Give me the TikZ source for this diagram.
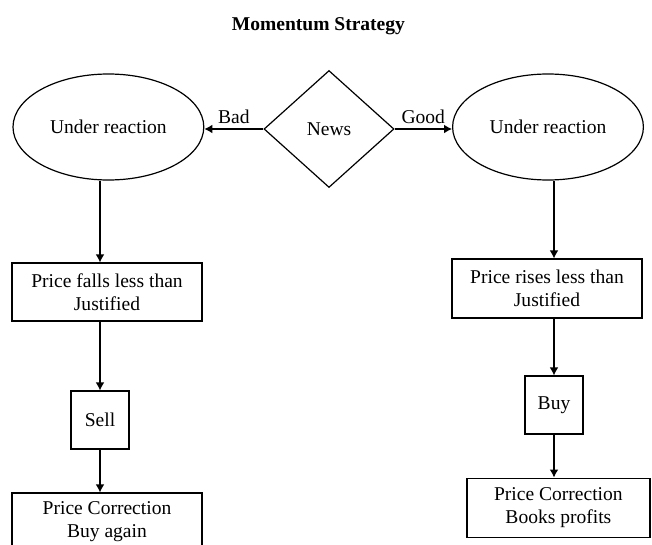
\documentclass[tikz,border=0pt]{standalone}
\usepackage{fontspec}
\setmainfont{Liberation Serif}
\usepackage{tikz}
\usetikzlibrary{arrows,arrows.meta,shapes.geometric}

\tikzset{
  flowbox/.style={draw, black, line width=0.03cm, align=center, inner sep=0cm},
  reaction/.style={draw, black, ellipse, line width=0.03cm, inner sep=0cm, minimum width=4.77cm, minimum height=2.65cm},
  flowline/.style={black, line width=0.03cm, -{Latex[length=0.2cm,width=0.22cm]}}
}

\begin{document}
\begin{tikzpicture}[font=\fontsize{13.9}{16.4}\selectfont]
\useasboundingbox (0cm,0cm) rectangle (16.3cm,-13.625cm);
\node [anchor=base, black, font=\fontsize{13.9}{16.4}\selectfont\bfseries] (title) at (7.96cm,-0.75cm) {Momentum Strategy};

\node [draw, diamond, line width=0.03cm, inner sep=0cm, minimum width=3.25cm, minimum height=2.925cm] (news) at (8.225cm,-3.225cm) {News};
\node [reaction] (reactL) at (2.71cm,-3.175cm) {Under reaction};
\node [reaction] (reactR) at (13.7cm,-3.175cm) {Under reaction};

\draw [flowline] (news.west) -- node[above, black]{Bad} (news.west -| reactL.east);
\draw [flowline] (news.east) -- node[above, black]{Good} (news.east -| reactR.west);

% bad news side
\node [flowbox, minimum width=4.75cm, minimum height=1.45cm] (fallsL) at (2.675cm,-7.3cm) {Price falls less than\\Justified};
\node [flowbox, minimum width=1.45cm, minimum height=1.45cm] (sell) at (2.5cm,-10.5cm) {Sell};
\node [flowbox, minimum width=4.75cm, minimum height=1.45cm] (corrL) at (2.675cm,-13.05cm) {Price Correction\\Buy again};

\draw [flowline] (reactL.south -| sell.north) -- (fallsL.north -| sell.north);
\draw [flowline] (fallsL.south -| sell.north) -- (sell.north);
\draw [flowline] (sell.south) -- (corrL.north -| sell.south);

% good news side
\node [flowbox, minimum width=4.75cm, minimum height=1.475cm] (risesR) at (13.675cm,-7.2125cm) {Price rises less than\\Justified};
\node [flowbox, minimum width=1.45cm, minimum height=1.45cm] (buy) at (13.85cm,-10.125cm) {Buy};
\node [flowbox, minimum width=4.575cm, minimum height=1.475cm] (corrR) at (13.96cm,-12.69cm) {Price Correction\\Books profits};

\draw [flowline] (reactR.south -| buy.north) -- (risesR.north -| buy.north);
\draw [flowline] (risesR.south -| buy.north) -- (buy.north);
\draw [flowline] (buy.south) -- (corrR.north -| buy.south);

\end{tikzpicture}
\end{document}
